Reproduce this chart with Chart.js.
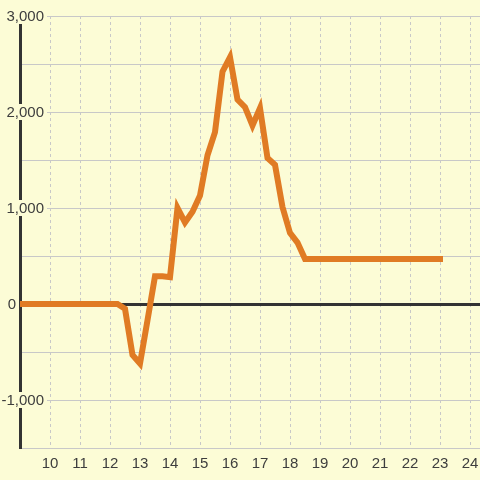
<!DOCTYPE html>
<html>
<head>
<meta charset="utf-8">
<script src="https://cdn.jsdelivr.net/npm/chart.js@4/dist/chart.umd.min.js"></script>
<style>
  html, body { margin: 0; padding: 0; background: #fcfcd6; }
  #wrap { width: 480px; height: 480px; }
</style>
</head>
<body>
<div id="wrap"><canvas id="energyChart" width="480" height="480"></canvas></div>
<script>
// time of day (hours, 15 minute steps)
const hours = [
  9, 9.25, 9.5, 9.75, 10, 10.25, 10.5, 10.75, 11, 11.25, 11.5, 11.75, 12, 12.25,
  12.5, 12.75, 13, 13.25, 13.5, 13.75, 14, 14.25, 14.5, 14.75, 15, 15.25, 15.5, 15.75,
  16, 16.25, 16.5, 16.75, 17, 17.25, 17.5, 17.75, 18, 18.25, 18.5, 18.75, 19, 19.25,
  19.5, 19.75, 20, 20.25, 20.5, 20.75, 21, 21.25, 21.5, 21.75, 22, 22.25, 22.5, 22.75, 23
];

// series values
const power = [
  0, 0, 0, 0, 0, 0, 0, 0, 0, 0, 0, 0, 0, 0,
  -50, -530, -620, -170, 290, 290, 280, 1000, 850, 960, 1130, 1550, 1790, 2420,
  2570, 2130, 2050, 1860, 2040, 1520, 1450, 1010, 740, 640, 470, 470, 470, 470,
  470, 470, 470, 470, 470, 470, 470, 470, 470, 470, 470, 470, 470, 470, 470
];

// tick labels
const xTicks = [10, 11, 12, 13, 14, 15, 16, 17, 18, 19, 20, 21, 22, 23, 24];
const yLabels = [-1000, 0, 1000, 2000, 3000];

const bg = '#fcfcd6';
const textColor = '#3d3d3d';
const font = { family: '"Liberation Sans", Arial, sans-serif', size: 15 };

// axis labels; y labels sit on top of the axis line with a background patch
const labelPlugin = {
  id: 'axisLabels',
  afterDraw(chart) {
    const ctx = chart.ctx;
    const x = chart.scales.x;
    const y = chart.scales.y;
    ctx.save();
    ctx.font = font.size + 'px ' + font.family;
    ctx.textBaseline = 'middle';

    ctx.textAlign = 'right';
    yLabels.forEach(v => {
      const text = v.toLocaleString('en-US');
      const py = y.getPixelForValue(v);
      const right = v === 0 ? 16 : 44;
      const w = ctx.measureText(text).width;
      if (v !== 0) {
        ctx.fillStyle = bg;
        ctx.fillRect(right - w - 1, py - 8, w + 4, 16);
      }
      ctx.fillStyle = textColor;
      ctx.fillText(text, right, py + 1);
    });

    ctx.textAlign = 'center';
    ctx.fillStyle = textColor;
    xTicks.forEach(v => {
      ctx.fillText(String(v), x.getPixelForValue(v), chart.chartArea.bottom + 16);
    });
    ctx.restore();
  }
};

const bgPlugin = {
  id: 'bg',
  beforeDraw(chart) {
    const ctx = chart.ctx;
    ctx.save();
    ctx.fillStyle = bg;
    ctx.fillRect(0, 0, chart.width, chart.height);
    ctx.restore();
  }
};

const ctx = document.getElementById('energyChart').getContext('2d');

const myChart = new Chart(ctx, {
  type: 'line',
  data: {
    datasets: [{
      data: hours.map((h, i) => ({ x: h, y: power[i] })),
      borderColor: '#e07b24',
      borderWidth: 6,
      borderJoinStyle: 'miter',
      borderCapStyle: 'square',
      pointRadius: 0,
      fill: false,
      tension: 0
    }]
  },
  options: {
    responsive: false,
    animation: false,
    layout: { padding: { left: 20, top: 16, right: 0, bottom: 32 } },
    plugins: { legend: { display: false }, tooltip: { enabled: false } },
    scales: {
      x: {
        type: 'linear',
        min: 9,
        max: 24 + 1 / 3,
        afterBuildTicks: axis => { axis.ticks = xTicks.map(v => ({ value: v })); },
        grid: { color: '#c8c8c8', lineWidth: 1, drawTicks: false },
        // dashed vertical grid lines (v4 takes the dash from border)
        border: { display: false, dash: [3, 3] },
        ticks: { display: false }
      },
      y: {
        min: -1500,
        max: 3000,
        ticks: { display: false, stepSize: 500 },
        grid: {
          drawTicks: false,
          color: c => c.tick && c.tick.value === 0 ? '#333333' : '#c8c8c8',
          lineWidth: c => c.tick && c.tick.value === 0 ? 3 : 1
        },
        border: { display: true, color: '#333333', width: 3 }
      }
    }
  },
  plugins: [bgPlugin, labelPlugin]
});
</script>
</body>
</html>
